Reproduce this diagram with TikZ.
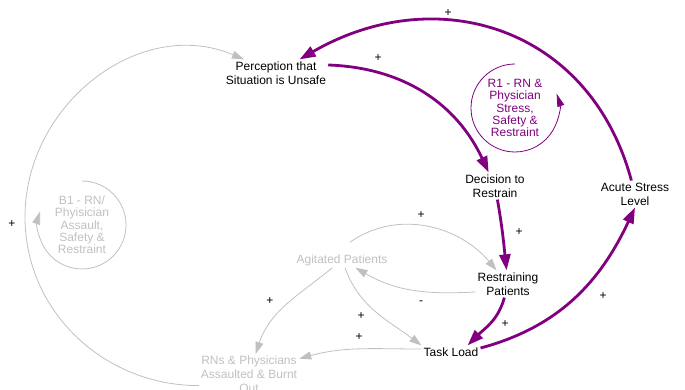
\documentclass[tikz,border=0pt]{standalone}
\usepackage{fontspec}
\setmainfont{Liberation Sans}
\usetikzlibrary{arrows.meta}
\definecolor{loopurple}{RGB}{128,0,128}
\definecolor{linkgray}{RGB}{192,192,192}
\begin{document}
\begin{tikzpicture}[x=1pt,y=1pt,
    every node/.style={font=\fontsize{12}{14}\selectfont,align=center,inner sep=2pt},
    hot/.style={draw=loopurple,line width=2.8pt,-{Triangle[length=16pt,width=11pt]}},
    cold/.style={draw=linkgray,line width=0.8pt,-{Triangle[length=12pt,width=8pt]}},
    loopname/.style={font=\fontsize{12}{12.3}\selectfont},
    sign/.style={inner sep=0pt}]
\useasboundingbox (0,0) rectangle (685,-390);
    \node (perc) at (276,-73) {Perception that\\Situation is Unsafe};
    \node (dec) at (495,-186) {Decision to\\Restrain};
    \node (acute) at (635,-194) {Acute Stress\\Level};
    \node[text=linkgray] (agit) at (342,-260) {Agitated Patients};
    \node (restr) at (508,-284) {Restraining\\Patients};
    \node (task) at (451,-352) {Task Load};
    \node[text=linkgray] (rns) at (249,-374.6) {RNs \& Physicians\\Assaulted \& Burnt\\Out};
    \node[loopname,text=linkgray] (b1) at (82,-225) {B1 - RN/\\Phyisician\\Assault,\\Safety \&\\Restraint};
    \node[loopname,text=loopurple] (r1) at (515,-108) {R1 - RN \&\\Physician\\Stress,\\Safety \&\\Restraint};
    \coordinate (swing) at (25,-217);

    \draw[draw=linkgray,line width=0.8pt,-{Triangle[length=13pt,width=8pt]}](b1.center)++(0,44) arc[start angle=90,end angle=-198,radius=44];
    \draw[draw=loopurple,line width=0.8pt,-{Triangle[length=13pt,width=7pt]}](r1.center)++(0,44) arc[start angle=90,end angle=379,radius=44];

    \draw[hot](acute) to[out=105,in=30,looseness=1.15] (perc);
    \draw[hot]([yshift=8pt]perc.east) to[out=-2,in=115] (dec);
    \draw[hot](dec) to[out=-80,in=96] (restr);
    \draw[hot](restr) to[out=-105,in=45] ([xshift=-13pt]task.north east);
    \draw[hot]([yshift=4pt]task.east) to[out=15,in=-115] (acute.south);

    \draw[cold]([xshift=8pt,yshift=10pt]agit.north) to[out=35,in=130] (restr);
    \draw[cold]([yshift=-8pt]restr.west) to[out=183,in=-30] (agit);
    \draw[cold]([xshift=3pt]agit.south) to[out=-70,in=143] (task.north west);
    \draw[cold](agit) to[out=-141,in=72] (rns);
    \draw[cold]([yshift=3pt]task.west) to[out=180,in=15] ([yshift=16pt]rns.east);
    \draw[cold]([yshift=-11pt]rns.west) to[out=180,in=-90] (swing) to[out=90,in=157,looseness=1.07] (perc);

\node[sign] (s1) at (448,-13){+};
\node[sign] (s2) at (378,-58){+};
\node[sign] (s3) at (519,-232){+};
\node[sign] (s4) at (505,-324){+};
\node[sign] (s5) at (603,-296){+};
\node[sign] (s6) at (421,-215){+};
\node[sign] (s7) at (421,-303){-};
\node[sign] (s8) at (361,-316){+};
\node[sign] (s9) at (359,-337){+};
\node[sign] (s10) at (270,-301){+};
\node[sign] (s11) at (12,-224){+};
\end{tikzpicture}
\end{document}
